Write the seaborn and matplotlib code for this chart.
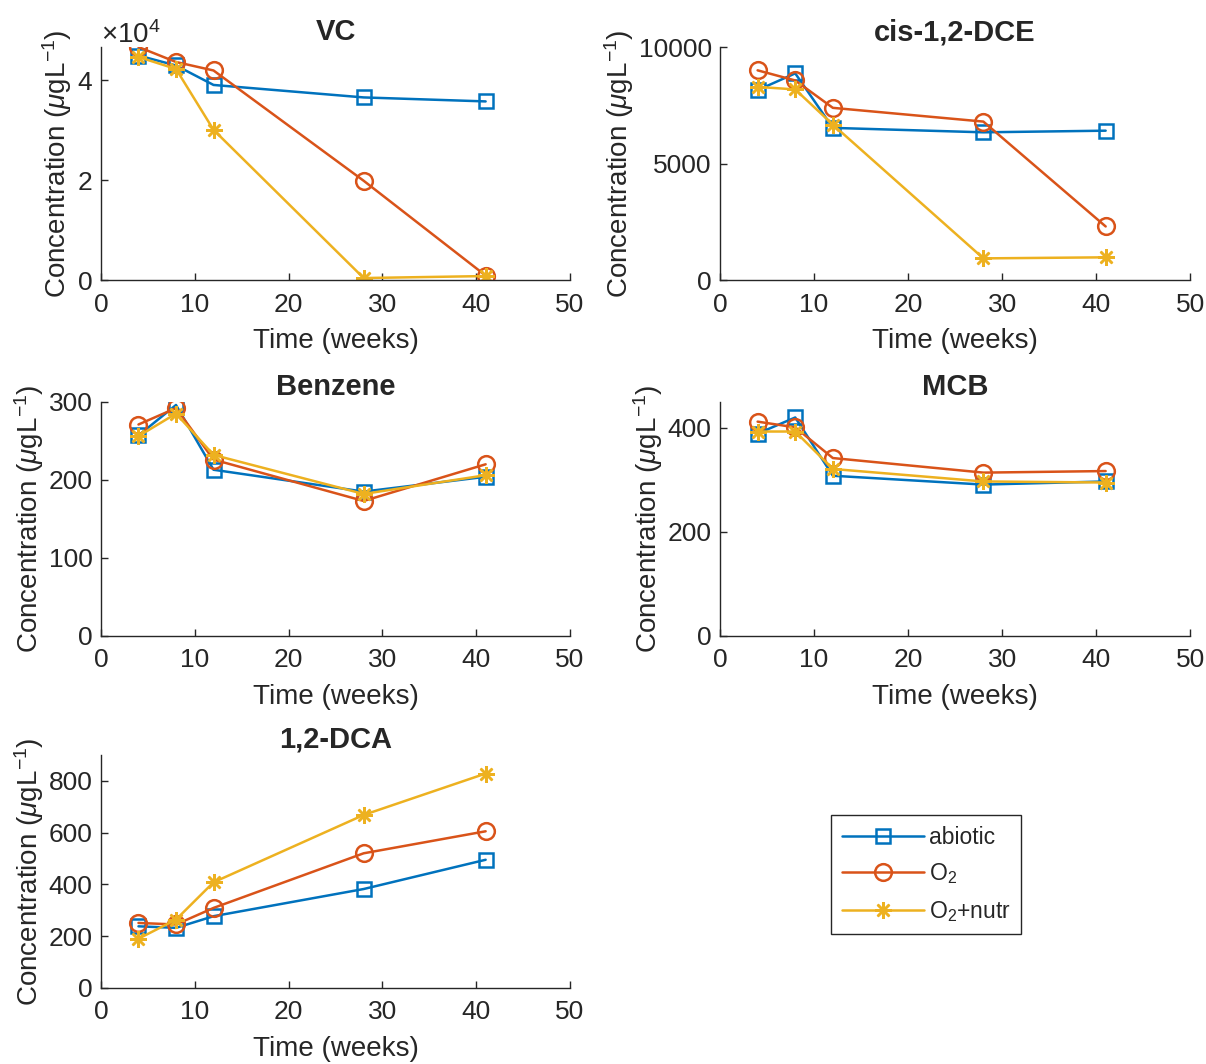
import matplotlib
matplotlib.use("Agg")
import matplotlib.pyplot as plt
import seaborn as sns
import numpy as np
import pandas as pd

# sampling times (weeks)
weeks = [4, 8, 12, 28, 41]

treatments = ["abiotic", "O$_2$", "O$_2$+nutr"]

# concentrations (ug/L), one list per treatment
vc_abiotic = [45000, 43000, 39100, 36600, 35800]
vc_o2 = [46700, 43700, 42000, 19900, 900]
vc_o2nutr = [44700, 42300, 30100, 400, 800]

dce_abiotic = [8150, 8870, 6530, 6340, 6410]
dce_o2 = [9000, 8565, 7390, 6800, 2300]
dce_o2nutr = [8290, 8180, 6670, 930, 975]

benz_abiotic = [257, 296, 213, 185, 204]
benz_o2 = [271, 292, 226, 173, 220]
benz_o2nutr = [256, 285, 232, 182, 206]

mcb_abiotic = [389, 420, 308, 291, 297]
mcb_o2 = [412, 401, 342, 314, 317]
mcb_o2nutr = [393, 393, 321, 297, 295]

dca_abiotic = [238, 232, 277, 382, 495]
dca_o2 = [251, 245, 309, 520, 605]
dca_o2nutr = [190, 264, 408, 668, 828]

compounds = ["VC", "cis-1,2-DCE", "Benzene", "MCB", "1,2-DCA"]
series = {
    "VC": [vc_abiotic, vc_o2, vc_o2nutr],
    "cis-1,2-DCE": [dce_abiotic, dce_o2, dce_o2nutr],
    "Benzene": [benz_abiotic, benz_o2, benz_o2nutr],
    "MCB": [mcb_abiotic, mcb_o2, mcb_o2nutr],
    "1,2-DCA": [dca_abiotic, dca_o2, dca_o2nutr],
}

ylims = {
    "VC": (0, max(vc_o2)),
    "cis-1,2-DCE": (0, 10000),
    "Benzene": (0, 300),
    "MCB": (0, 450),
    "1,2-DCA": (0, 900),
}
yticks = {
    "VC": [0, 20000, 40000],
    "cis-1,2-DCE": [0, 5000, 10000],
    "Benzene": [0, 100, 200, 300],
    "MCB": [0, 200, 400],
    "1,2-DCA": [0, 200, 400, 600, 800],
}

colors = ["#0072BD", "#D95319", "#EDB120"]
markers = ["s", "o", (8, 2, 0)]
msizes = [10, 12, 12]

sns.set_theme(style="ticks")
plt.rcParams["font.family"] = ["Liberation Sans", "DejaVu Sans"]
plt.rcParams["mathtext.fontset"] = "custom"
plt.rcParams["mathtext.rm"] = "Liberation Sans"
plt.rcParams["mathtext.it"] = "Liberation Sans:italic"
plt.rcParams["axes.edgecolor"] = "#262626"
plt.rcParams["xtick.color"] = "#262626"
plt.rcParams["ytick.color"] = "#262626"

fig = plt.figure(figsize=(12.06, 10.64), dpi=100)

# axes rectangles in figure fraction
positions = [
    [0.0837, 0.7368, 0.389, 0.219],
    [0.597, 0.7368, 0.390, 0.219],
    [0.0837, 0.4023, 0.389, 0.220],
    [0.597, 0.4023, 0.390, 0.220],
    [0.0837, 0.0715, 0.389, 0.219],
]

handles = []
for i, name in enumerate(compounds):
    ax = fig.add_axes(positions[i])
    rows = []
    for t, vals in zip(treatments, series[name]):
        for w, v in zip(weeks, vals):
            rows.append({"week": w, "conc": v, "treatment": t})
    df = pd.DataFrame(rows)
    for j, t in enumerate(treatments):
        sub = df[df["treatment"] == t]
        sns.lineplot(data=sub, x="week", y="conc", ax=ax, color=colors[j],
                     linewidth=1.8, marker=markers[j], markersize=msizes[j],
                     markerfacecolor="none", markeredgecolor=colors[j],
                     markeredgewidth=1.8, legend=False)
    if i == 0:
        handles = ax.lines[:3]

    ax.set_xlim(0, 50)
    ax.set_xticks([0, 10, 20, 30, 40, 50])
    ax.set_ylim(*ylims[name])
    ax.set_yticks(yticks[name])
    if name == "VC":
        ax.ticklabel_format(axis="y", style="sci", scilimits=(4, 4), useMathText=True)
        ax.yaxis.get_offset_text().set_fontsize(20)
    ax.set_title(name, fontsize=21, fontweight="bold", pad=5)
    ax.set_xlabel("Time (weeks)", fontsize=20, labelpad=8)
    ax.set_ylabel("Concentration ($\\mu$gL$^{-1}$)", fontsize=20, labelpad=2)
    ax.tick_params(axis="both", direction="in", labelsize=19, length=5, width=1)
    ax.tick_params(axis="x", pad=9)
    ax.tick_params(axis="y", pad=6)
    sns.despine(ax=ax)
    for s in ["left", "bottom"]:
        ax.spines[s].set_linewidth(1.0)

leg = fig.legend(handles, treatments, loc="center", bbox_to_anchor=(0.768, 0.178),
                 fontsize=16.5, handlelength=3.6, labelspacing=0.55, borderpad=0.45,
                 handletextpad=0.2, fancybox=False, framealpha=1)
leg.get_frame().set_edgecolor("#262626")
leg.get_frame().set_linewidth(1.0)

fig.savefig("out.png", dpi=100)
